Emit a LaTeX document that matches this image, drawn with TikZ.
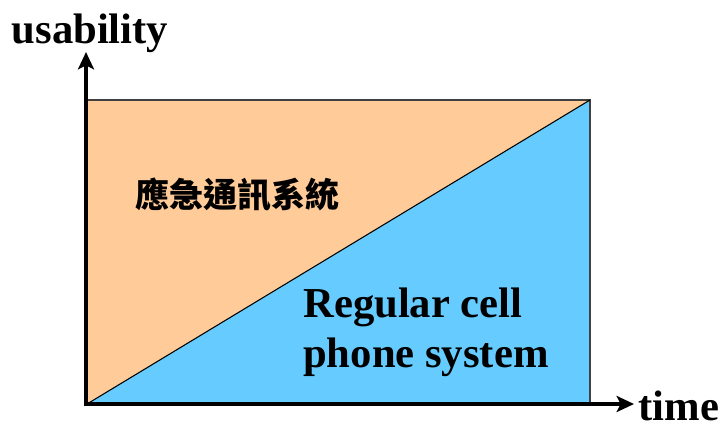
\documentclass[tikz,border=0pt]{standalone}
\usepackage{fontspec}
\setmainfont{Liberation Serif}
\newfontfamily\cjk{Noto Sans CJK TC}
\usetikzlibrary{arrows.meta}
\definecolor{peach}{HTML}{FFCC99}
\definecolor{skyb}{HTML}{66CCFF}
\definecolor{edge}{HTML}{404040}
\begin{document}
\begin{tikzpicture}[x=0.75pt,y=-0.75pt,
  axis/.style={line width=3pt,-{Stealth[length=13pt,width=12pt,inset=3pt]}},
  lbl/.style={font=\fontsize{32}{37.5}\selectfont\bfseries,inner sep=0pt},
  cjklbl/.style={font=\cjk\fontsize{25.5}{30}\selectfont\bfseries,inner sep=0pt}]
\useasboundingbox[fill=white] (0,0) rectangle (724,428);
\coordinate (bl) at (87,404);
\coordinate (tl) at (87,100);
\coordinate (tr) at (590,100);
\coordinate (br) at (590,404);
\coordinate (ytip) at (86,52);
\coordinate (xtip) at (634,404);
\coordinate (xo) at (84,404);
\fill[peach] (bl) -- (tl) -- (tr) -- cycle;
\fill[skyb] (bl) -- (tr) -- (br) -- cycle;
\draw[edge,line width=1.2pt] (bl) rectangle (tr);
\draw[black,line width=0.8pt] (bl) -- (tr);
\draw[axis] (86,406) -- (ytip);
\draw[axis] (xo) -- (xtip);
\node[lbl,anchor=base] (usab) at (90,44) {usability};
\node[lbl,anchor=base] (time) at (679,420) {time};
\node[cjklbl] (emerg) at (237,195) {應急通訊系統};
\node[lbl,anchor=base west,align=left] (reg) at (303,367) {Regular cell\\phone system};
\end{tikzpicture}
\end{document}
